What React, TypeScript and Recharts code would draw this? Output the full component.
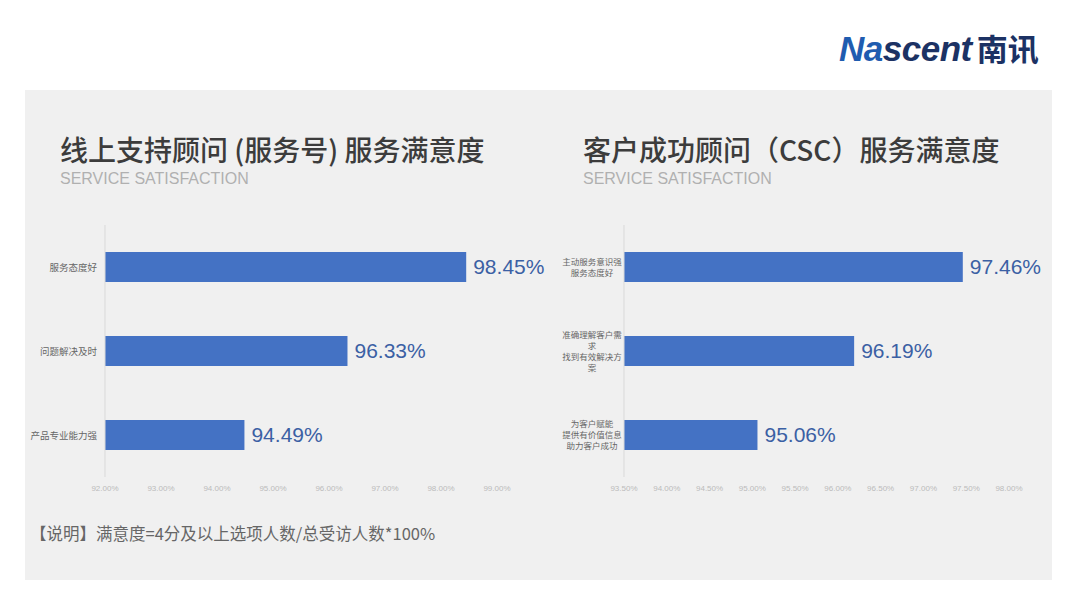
import React from "react";
import { BarChart, Bar, XAxis, YAxis, LabelList } from "recharts";

const leftCategories = ["服务态度好", "问题解决及时", "产品专业能力强"];
const leftValues = [98.45, 96.33, 94.49];
const leftTicks = [92, 93, 94, 95, 96, 97, 98, 99];

const rightCategories = [
  "主动服务意识强\n服务态度好",
  "准确理解客户需\n求\n找到有效解决方\n案",
  "为客户赋能\n提供有价值信息\n助力客户成功",
];
const rightValues = [97.46, 96.19, 95.06];
const rightTicks = [93.5, 94, 94.5, 95, 95.5, 96, 96.5, 97, 97.5, 98];

const leftData = leftCategories.map((c, i) => ({ name: c, value: leftValues[i] }));
const rightData = rightCategories.map((c, i) => ({ name: c, value: rightValues[i] }));

const BAR = "#4472c4";
const LABEL = "#3b60a4";
const CJK = "'Noto Sans CJK SC', 'Noto Sans', sans-serif";
const LAT = "'Liberation Sans', Arial, sans-serif";

const pct = (v: any) => Number(v).toFixed(2) + "%";

const LeftTick = (props: any) => {
  const { x, y, payload } = props;
  return (
    <text x={x} y={y} dy={3.5} textAnchor="end" fontSize={9.5} fill="#666" fontFamily={CJK}>
      {payload.value}
    </text>
  );
};

const RightTick = (props: any) => {
  const { x, y, payload } = props;
  const lines = String(payload.value).split("\n");
  const lh = 11;
  const start = y - ((lines.length - 1) * lh) / 2 + 3;
  return (
    <text x={x - 24} y={start} textAnchor="middle" fontSize={8.5} fill="#666" fontFamily={CJK}>
      {lines.map((l, i) => (
        <tspan key={i} x={x - 24} y={start + i * lh}>
          {l}
        </tspan>
      ))}
    </text>
  );
};

const xTickStyle = { fontSize: 8, fill: "#bbb", fontFamily: LAT };

export default function App() {
  return (
    <div
      style={{
        position: "absolute",
        left: 0,
        top: 0,
        width: 1080,
        height: 608,
        background: "#fff",
        overflow: "hidden",
        fontFamily: CJK,
      }}
    >
      {/* logo */}
      <div
        style={{
          position: "absolute",
          left: 839,
          top: 27,
          fontFamily: LAT,
          fontWeight: 700,
          fontStyle: "italic",
          fontSize: 35,
          letterSpacing: -0.5,
          whiteSpace: "nowrap",
          lineHeight: "42px",
        }}
      >
        <span style={{ color: "#1f5cb0" }}>Na</span>
        <span style={{ color: "#1c3264" }}>scent</span>
        <span style={{ color: "#1c3264", fontFamily: CJK, fontStyle: "normal", fontSize: 31, marginLeft: 5, letterSpacing: 0 }}>
          南讯
        </span>
      </div>

      {/* panel */}
      <div
        style={{
          position: "absolute",
          left: 25,
          top: 90,
          width: 1027,
          height: 490,
          background: "#f0f0f0",
        }}
      />

      {/* titles */}
      <div style={{ position: "absolute", left: 60, top: 129, fontSize: 28, fontWeight: 500, color: "#3c3c3c", whiteSpace: "nowrap", lineHeight: "40px" }}>
        线上支持顾问 (服务号) 服务满意度
      </div>
      <div style={{ position: "absolute", left: 60, top: 170, fontSize: 16, color: "#b0b0b0", fontFamily: LAT, whiteSpace: "nowrap", lineHeight: "18px" }}>
        SERVICE SATISFACTION
      </div>
      <div style={{ position: "absolute", left: 583, top: 129, fontSize: 28, fontWeight: 500, color: "#3c3c3c", whiteSpace: "nowrap", lineHeight: "40px" }}>
        客户成功顾问（CSC）服务满意度
      </div>
      <div style={{ position: "absolute", left: 583, top: 170, fontSize: 16, color: "#b0b0b0", fontFamily: LAT, whiteSpace: "nowrap", lineHeight: "18px" }}>
        SERVICE SATISFACTION
      </div>

      {/* footnote */}
      <div style={{ position: "absolute", left: 30, top: 521, fontSize: 16.5, color: "#666", whiteSpace: "nowrap", lineHeight: "24px" }}>
        【说明】满意度=4分及以上选项人数/总受访人数*100%
      </div>

      {/* left chart */}
      <div style={{ position: "absolute", left: 0, top: 0 }}>
        <BarChart
          width={1080}
          height={510}
          data={leftData}
          layout="vertical"
          margin={{ top: 225, right: 583, left: 10, bottom: 1 }}
        >
          <XAxis
            type="number"
            domain={[92, 99]}
            ticks={leftTicks}
            tickFormatter={pct}
            axisLine={false}
            tickLine={false}
            tick={xTickStyle}
            height={32}
            interval={0}
          />
          <YAxis
            type="category"
            dataKey="name"
            width={95}
            axisLine={{ stroke: "#d9d9d9" }}
            tickLine={false}
            tick={<LeftTick />}
          />
          <Bar dataKey="value" fill={BAR} barSize={30} isAnimationActive={false}>
            <LabelList dataKey="value" position="right" offset={7} formatter={pct} fill={LABEL} fontSize={21} fontFamily={LAT} />
          </Bar>
        </BarChart>
      </div>

      {/* right chart */}
      <div style={{ position: "absolute", left: 0, top: 0 }}>
        <BarChart
          width={1080}
          height={510}
          data={rightData}
          layout="vertical"
          margin={{ top: 225, right: 71, left: 10, bottom: 1 }}
        >
          <XAxis
            type="number"
            domain={[93.5, 98]}
            ticks={rightTicks}
            tickFormatter={pct}
            axisLine={false}
            tickLine={false}
            tick={xTickStyle}
            height={32}
            interval={0}
          />
          <YAxis
            type="category"
            dataKey="name"
            width={614}
            axisLine={{ stroke: "#d9d9d9" }}
            tickLine={false}
            tick={<RightTick />}
          />
          <Bar dataKey="value" fill={BAR} barSize={30} isAnimationActive={false}>
            <LabelList dataKey="value" position="right" offset={7} formatter={pct} fill={LABEL} fontSize={21} fontFamily={LAT} />
          </Bar>
        </BarChart>
      </div>
    </div>
  );
}
